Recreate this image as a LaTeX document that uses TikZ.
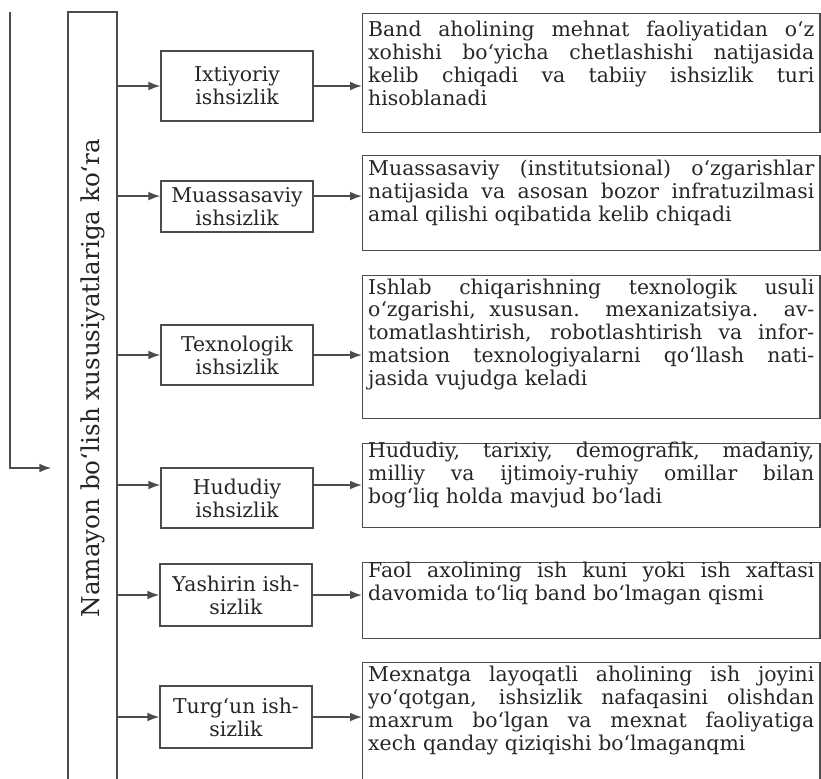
\documentclass[tikz,border=0pt]{standalone}
\usepackage{fontspec}
\setmainfont{DejaVu Serif}
\usepackage{tikz}
\usetikzlibrary{arrows.meta}
\def\jl#1{\leavevmode\hbox to 11.15cm{\spaceskip=0pt\xspaceskip=0pt #1}}
\tikzset{
	kind/.style={draw=black!70, line width=0.9pt, text=black!85, align=center, minimum width=3.8cm, inner sep=0pt, font=\fontsize{14.5}{16.3}\selectfont},
	desc/.style={draw=black!70, line width=0.9pt, text=black!85, anchor=north west, text width=11.15cm, inner xsep=0.14cm, inner ysep=0pt, align=left, font=\fontsize{14.5}{16.3}\selectfont},
	arr/.style={-{Latex[length=3mm,width=2.2mm]}, draw=black!70, line width=1.2pt}
}

\begin{document}
\begin{tikzpicture}[x=0.025cm, y=-0.025cm]
	%%%%% START %%%%%
	
	\path[use as bounding box, fill=white] (0,0) rectangle (821,778);
	
	\node[draw=black!70, line width=0.9pt, minimum width=1.225cm, minimum height=19.45cm, inner sep=0pt] (bar) at (92.5,401) {};
	\node[rotate=90, text=black!85, font=\fontsize{17.5}{20}\selectfont] (bartext) at (92.5,378) {Namayon bo‘lish xususiyatlariga ko‘ra};
	
	\node[kind, minimum height=1.75cm] (ixt) at (237,86) {Ixtiyoriy\\ishsizlik};
	\node[kind, minimum height=1.275cm] (muas) at (237,206.5) {Muassasaviy\\ishsizlik};
	\node[kind, minimum height=1.5cm] (texn) at (237,355) {Texnologik\\ishsizlik};
	\node[kind, minimum height=1.5cm] (hud) at (237,498) {Hududiy\\ishsizlik};
	\node[kind, minimum height=1.55cm] (yash) at (236,595) {Yashirin ish-\\sizlik};
	\node[kind, minimum height=1.55cm] (turg) at (236,717) {Turg‘un ish-\\sizlik};
	
	\node[desc, text height=0.575cm, text depth=2.4cm] (d1) at (362,13) {\jl{Band aholining mehnat faoliyatidan o‘z}\\ \jl{xohishi bo‘yicha chetlashishi natijasida}\\ \jl{kelib chiqadi va tabiiy ishsizlik turi}\\ hisoblanadi};
	\node[desc, text height=0.49cm, text depth=1.89cm] (d2) at (362,155) {\jl{Muassasaviy (institutsional) o‘zgarishlar}\\ \jl{natijasida va asosan bozor infratuzilmasi}\\ amal qilishi oqibatida kelib chiqadi};
	\node[desc, text height=0.46cm, text depth=3.11cm] (d3) at (362,275) {\jl{Ishlab chiqarishning texnologik usuli}\\ \jl{o‘zgarishi, xususan. mexanizatsiya. av-}\\ \jl{tomatlashtirish, robotlashtirish va infor-}\\ \jl{matsion texnologiyalarni qo‘llash nati-}\\ jasida vujudga keladi};
	\node[desc, text height=0.35cm, text depth=1.75cm] (d4) at (362,443) {\jl{Hududiy, tarixiy, demografik, madaniy,}\\ \jl{milliy va ijtimoiy-ruhiy omillar bilan}\\ bog‘liq holda mavjud bo‘ladi};
	\node[desc, text height=0.375cm, text depth=1.525cm] (d5) at (362,562) {\jl{Faol axolining ish kuni yoki ish xaftasi}\\ davomida to‘liq band bo‘lmagan qismi};
	\node[desc, text height=0.475cm, text depth=2.725cm] (d6) at (362,662) {\jl{Mexnatga layoqatli aholining ish joyini}\\ \jl{yo‘qotgan, ishsizlik nafaqasini olishdan}\\ \jl{maxrum bo‘lgan va mexnat faoliyatiga}\\ xech qanday qiziqishi bo‘lmaganqmi};
	
	\coordinate (top) at (10,12);
	\coordinate (turn) at (10,468);
	\coordinate (muasin) at ([yshift=0.26cm]muas.center);
	\coordinate (hudin) at ([yshift=0.325cm]hud.center);
	
	\draw[arr, shorten >=0.4cm] (top) -- (turn) -- (turn -| bar.west);
	
	\draw[arr] (ixt.west -| bar.east) -- (ixt.west);
	\draw[arr] (muasin -| bar.east) -- (muasin -| muas.west);
	\draw[arr] (texn.west -| bar.east) -- (texn.west);
	\draw[arr] (hudin -| bar.east) -- (hudin -| hud.west);
	\draw[arr] (yash.west -| bar.east) -- (yash.west);
	\draw[arr] (turg.west -| bar.east) -- (turg.west);
	
	\draw[arr] (ixt.east) -- (ixt.east -| d1.west);
	\draw[arr] (muasin -| muas.east) -- (muasin -| d2.west);
	\draw[arr] (texn.east) -- (texn.east -| d3.west);
	\draw[arr] (hudin -| hud.east) -- (hudin -| d4.west);
	\draw[arr] (yash.east) -- (yash.east -| d5.west);
	\draw[arr] (turg.east) -- (turg.east -| d6.west);
	
	%%%%% END %%%%%
\end{tikzpicture}
\end{document}
